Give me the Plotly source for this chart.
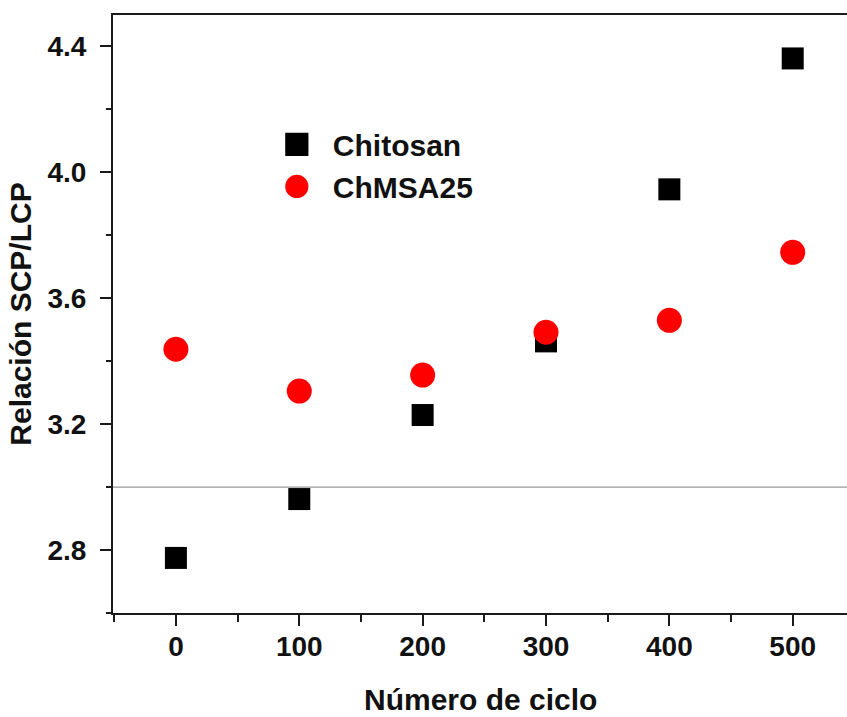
import plotly.graph_objects as go

cycles = [0, 100, 200, 300, 400, 500]
chitosan = [2.775, 2.962, 3.229, 3.463, 3.946, 4.362]
chmsa25 = [3.438, 3.305, 3.356, 3.492, 3.530, 3.746]
series_names = ["Chitosan", "ChMSA25"]
x_title = "Número de ciclo"
y_title = "Relación SCP/LCP"
ref_line_y = 3.0

FONT = "Liberation Sans, Arial, sans-serif"

fig = go.Figure()
fig.add_trace(go.Scatter(x=cycles, y=chitosan, mode="markers", name=series_names[0],
                         marker=dict(symbol="square", size=22, color="black")))
fig.add_trace(go.Scatter(x=cycles, y=chmsa25, mode="markers", name=series_names[1],
                         marker=dict(symbol="circle", size=25, color="#ff0000")))

fig.add_shape(type="line", xref="paper", x0=0, x1=1, yref="y", y0=ref_line_y, y1=ref_line_y,
              line=dict(color="#999999", width=1.2), layer="below")

axis_common = dict(showline=True, linecolor="#1a1a1a", linewidth=2, showgrid=False, zeroline=False,
                   ticks="outside", ticklen=11, tickwidth=2, tickcolor="#1a1a1a", automargin=False,
                   tickfont=dict(family=FONT, size=28, color="#111", weight=700))

fig.update_xaxes(range=[-51, 544], tickvals=[0, 100, 200, 300, 400, 500], mirror=True,
                 minor=dict(tickvals=[-50, 50, 150, 250, 350, 450, 550], ticklen=7, tickwidth=2,
                            tickcolor="#1a1a1a", ticks="outside"),
                 ticklabelstandoff=-4,
                 **axis_common)
fig.update_yaxes(range=[2.6, 4.5], tickvals=[2.8, 3.2, 3.6, 4.0, 4.4], tickformat=".1f",
                 minor=dict(tickvals=[2.6, 3.0, 3.4, 3.8, 4.2], ticklen=5, tickwidth=2,
                            tickcolor="#1a1a1a", ticks="outside"),
                 title=dict(text=y_title, font=dict(family=FONT, size=30, color="#111", weight=700),
                            standoff=7),
                 ticklabelstandoff=8,
                 **axis_common)

fig.add_annotation(text=x_title, xref="paper", yref="paper", x=0.5, y=-0.145,
                   xanchor="center", yanchor="middle", showarrow=False,
                   font=dict(family=FONT, size=30, color="#111", weight=700))

fig.update_layout(
    width=847, height=717,
    margin=dict(l=113, r=0, t=15, b=104),
    paper_bgcolor="white", plot_bgcolor="white",
    showlegend=True,
    legend=dict(x=0.2014, y=0.827, xanchor="left", yanchor="top", bgcolor="rgba(0,0,0,0)",
                font=dict(family=FONT, size=30, color="#111", weight=700),
                itemsizing="trace", itemwidth=62, tracegroupgap=0),
)

post = """
var gd = document.getElementById('{plot_id}');
function enlargeLegend(){
  gd.querySelectorAll('.legend .legendpoints path.scatterpts').forEach(function(p){
    if (p.getAttribute('data-big')) return;
    p.setAttribute('data-big', '1');
    p.setAttribute('transform', (p.getAttribute('transform') || '') + ' scale(1.45)');
  });
}
enlargeLegend();
gd.on('plotly_afterplot', enlargeLegend);
"""

fig.write_html("out.html", post_script=post)
